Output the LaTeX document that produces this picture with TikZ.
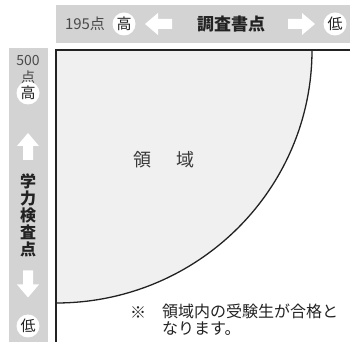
\documentclass[tikz,border=0pt]{standalone}
\usepackage{fontspec}
\setmainfont{Noto Sans CJK JP}
\definecolor{barg}{HTML}{D3D3D3}
\definecolor{regg}{HTML}{F0F0F0}
\definecolor{linec}{HTML}{222222}
\definecolor{txtg}{HTML}{4A4A4A}
\begin{document}
\begin{tikzpicture}[x=1pt,y=1pt,
  circ/.style={circle,fill=white,inner sep=0pt,minimum size=23pt,font=\fontsize{15}{15}\selectfont,text=linec},
  bartext/.style={font=\fontsize{15}{15}\selectfont,text=txtg,inner sep=0pt},
  boldtext/.style={font=\fontsize{17}{17}\selectfont\bfseries,text=linec,inner sep=0pt},
  vtext/.style={font=\fontsize{16}{16}\selectfont\bfseries,text=linec,inner sep=0pt},
  regtext/.style={font=\fontsize{18}{18}\selectfont,text=linec!90,inner sep=0pt},
  blockarrow/.pic={\fill[white] (-13.5,-5) -- (0.5,-5) -- (0.5,-11) -- (13.5,0) -- (0.5,11) -- (0.5,5) -- (-13.5,5) -- cycle;}
]
\useasboundingbox (0,0) rectangle (350,342);
% bars
\fill[barg] (56,299) rectangle (350,337);
\fill[barg] (9,0) rectangle (48,294);
% region
\fill[regg] (56,292) -- (312,292) arc[start angle=0,end angle=-90,x radius=256,y radius=253] -- cycle;
\draw[linec,line width=1.3pt] (312,292) arc[start angle=0,end angle=-90,x radius=256,y radius=253];
\draw[linec,line width=1.3pt] (350,292) -- (56,292) -- (56,0);
% top bar content
\node[bartext] (t195) at (85,318) {195点};
\node[circ] (thigh) at (124,318) {高};
\pic[rotate=180] (tla) at (158.5,318) {blockarrow};
\node[boldtext] (tchosa) at (231,318) {調査書点};
\pic (tra) at (301.5,318) {blockarrow};
\node[circ] (tlow) at (335,318) {低};
% left bar content
\node[font=\fontsize{14}{14}\selectfont,text=txtg,inner sep=0pt] (l500) at (28,281) {500};
\node[font=\fontsize{14}{14}\selectfont,text=txtg,inner sep=0pt] (lten) at (28,265) {点};
\node[circ] (lhigh) at (28,249) {高};
\pic[rotate=90] (lua) at (28,195.5) {blockarrow};
\node[vtext] (v1) at (28,161) {学};
\node[vtext] (v2) at (28,144) {力};
\node[vtext] (v3) at (28,127) {検};
\node[vtext] (v4) at (28,110) {査};
\node[vtext] (v5) at (28,93) {点};
\pic[rotate=-90] (lda) at (28,58) {blockarrow};
\node[circ] (llow) at (28,16) {低};
% region label
\node[regtext] (r1) at (142,182) {領};
\node[regtext] (r2) at (185,182) {域};
% note
\node[font=\fontsize{16}{16}\selectfont,text=linec,inner sep=0pt] (kome) at (138,29) {※};
\node[font=\fontsize{16}{17}\selectfont,text=linec,inner sep=0pt,anchor=north west,align=left] (note) at (162,38) {領域内の受験生が合格と\\なります。};
\end{tikzpicture}
\end{document}
